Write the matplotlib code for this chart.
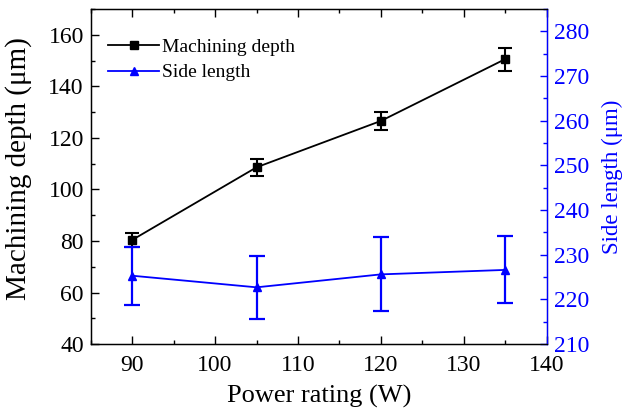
import matplotlib
matplotlib.use("Agg")
import matplotlib.pyplot as plt
from matplotlib.ticker import MultipleLocator

plt.rcParams['font.family'] = ['Liberation Serif', 'DejaVu Serif']
plt.rcParams['mathtext.fontset'] = 'stix'

power = [90, 105, 120, 135]
depth = [80.4, 108.6, 126.6, 150.6]
depth_err = [2.7, 3.3, 3.6, 4.5]
side = [225.3, 222.7, 225.6, 226.6]
side_err = [6.5, 7.0, 8.3, 7.5]

fig = plt.figure(figsize=(6.28, 4.15), dpi=100)
ax = fig.add_axes([0.1445, 0.171, 0.726, 0.807])
ax2 = ax.twinx()

blue = '#0000ff'
l1 = ax.errorbar(power, depth, yerr=depth_err, color='black', marker='s', markersize=6,
                 linewidth=1.3, elinewidth=1.5, capsize=5, capthick=1.5, label='Machining depth')
l2 = ax2.errorbar(power, side, yerr=side_err, color=blue, marker='^', markersize=6,
                  linewidth=1.3, elinewidth=1.6, capsize=6, capthick=1.6, label='Side length')

ax.set_xlim(85, 140)
ax.set_ylim(40, 170)
ax2.set_ylim(210, 285)

ax.xaxis.set_major_locator(MultipleLocator(10))
ax.xaxis.set_minor_locator(MultipleLocator(5))
ax.yaxis.set_major_locator(MultipleLocator(20))
ax.yaxis.set_minor_locator(MultipleLocator(10))
ax2.yaxis.set_major_locator(MultipleLocator(10))
ax2.yaxis.set_minor_locator(MultipleLocator(5))

ax.tick_params(axis='x', which='both', direction='in', top=True, labelsize=17, pad=8)
ax.tick_params(axis='y', which='both', direction='in', right=False, labelsize=17, pad=5)
ax.tick_params(which='major', length=5.5, width=1)
ax.tick_params(which='minor', length=3, width=1)
ax2.tick_params(axis='y', which='both', direction='in', colors=blue, labelsize=17, pad=5)
ax2.tick_params(which='major', length=5, width=1)
ax2.tick_params(which='minor', length=3, width=1)
ax2.spines['right'].set_color(blue)
for s in ['left', 'bottom', 'top']:
    ax.spines[s].set_linewidth(1)
ax2.spines['right'].set_linewidth(1)

ax.set_xlabel('Power rating (W)', fontsize=19, labelpad=6)
ax.set_ylabel('Machining depth (μm)', fontsize=21, labelpad=9)
ax.yaxis.set_label_coords(-0.128, 0.525)
ax2.set_ylabel('Side length (μm)', fontsize=16.5, color=blue, labelpad=9)

handles = [l1.lines[0], l2.lines[0]]
ax.legend(handles, ['Machining depth', 'Side length'], loc='upper left', frameon=False,
          fontsize=14, handlelength=2.6, handletextpad=0.15, labelspacing=0.4,
          bbox_to_anchor=(0.0, 0.965))

fig.savefig('out.png', dpi=100)
